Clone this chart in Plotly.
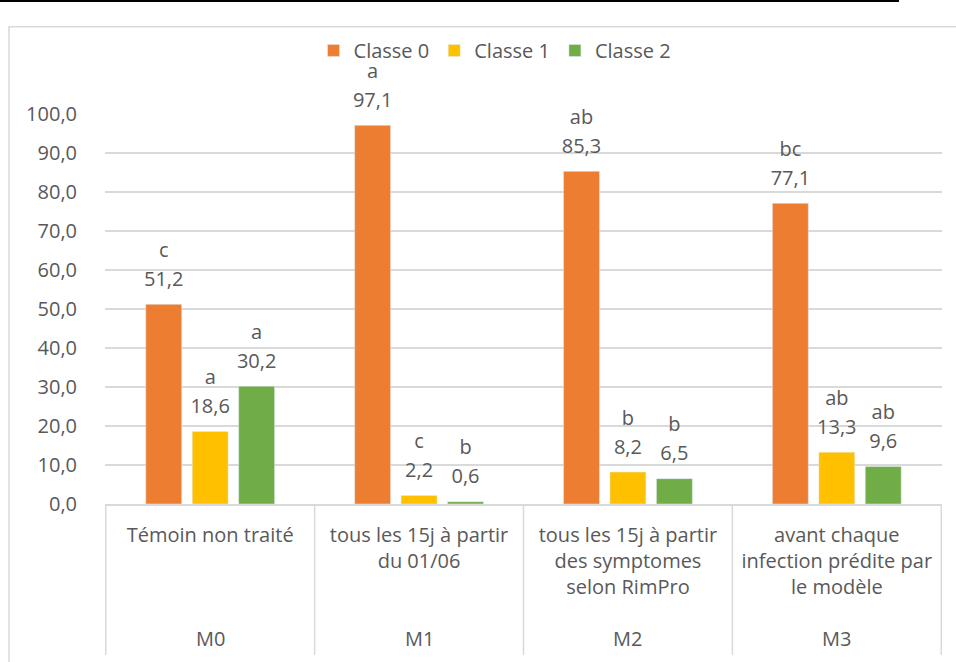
import plotly.graph_objects as go

groups = ["M0", "M1", "M2", "M3"]
descriptions = [
    "Témoin non traité",
    "tous les 15j à partir<br>du 01/06",
    "tous les 15j à partir<br>des symptomes<br>selon RimPro",
    "avant chaque<br>infection prédite par<br>le modèle",
]
series_names = ["Classe 0", "Classe 1", "Classe 2"]
classe0 = [51.2, 97.1, 85.3, 77.1]
classe1 = [18.6, 2.2, 8.2, 13.3]
classe2 = [30.2, 0.6, 6.5, 9.6]
letters0 = ["c", "a", "ab", "bc"]
letters1 = ["a", "c", "b", "ab"]
letters2 = ["a", "b", "b", "ab"]
y_ticks = [0, 10, 20, 30, 40, 50, 60, 70, 80, 90, 100]

values = [classe0, classe1, classe2]
letters = [letters0, letters1, letters2]
colors = ["#ED7D31", "#FFC000", "#70AD47"]
TXT = "#595959"
GRID = "#D9D9D9"
FONT = "Open Sans"
FS = 20
x = descriptions

fig = go.Figure()
for i in range(3):
    fig.add_trace(go.Bar(
        x=x, y=values[i], name=series_names[i], marker_color=colors[i],
        offsetgroup=str(i), hoverinfo="skip",
    ))
for i in range(3):
    fig.add_trace(go.Scatter(
        x=x, y=values[i], mode="markers+text", texttemplate="%{y:.1f}",
        textposition="top center", marker=dict(size=20, color="rgba(0,0,0,0)"),
        textfont=dict(size=FS, color=TXT, family=FONT),
        offsetgroup=str(i), showlegend=False, hoverinfo="skip", cliponaxis=False,
    ))
    fig.add_trace(go.Scatter(
        x=x, y=values[i], mode="markers+text", text=letters[i],
        textposition="top center", marker=dict(size=66, color="rgba(0,0,0,0)"),
        textfont=dict(size=FS, color=TXT, family=FONT),
        offsetgroup=str(i), showlegend=False, hoverinfo="skip", cliponaxis=False,
    ))

# outer group labels (M0..M3) under the category labels
annotations = [
    dict(x=d, y=-0.3436, xref="x", yref="paper", text=g, showarrow=False,
         font=dict(size=FS, color=TXT, family=FONT), yanchor="middle")
    for d, g in zip(descriptions, groups)
]
# group dividers at category boundaries
shapes = [
    dict(type="line", xref="x", yref="paper", x0=k - 0.5, x1=k - 0.5, y0=0, y1=-0.387,
         line=dict(color=GRID, width=1.5))
    for k in range(len(descriptions) + 1)
]
shapes += [
    dict(type="line", xref="paper", yref="paper", x0=-0.1266, x1=0.9486,
         y0=1.2897, y1=1.2897, line=dict(color="black", width=2)),
    dict(type="rect", xref="paper", yref="paper", x0=-0.1147, x1=1.03,
         y0=-0.6, y1=1.224, line=dict(color=GRID, width=1.5)),
]

fig.update_layout(
    width=956, height=662,
    margin=dict(l=105, r=14, t=114, b=158),
    paper_bgcolor="white", plot_bgcolor="white",
    barmode="group", bargap=0.333, bargroupgap=0.226,
    scattermode="group", scattergap=0.333,
    separators=", ",
    font=dict(family=FONT, size=FS, color=TXT),
    legend=dict(orientation="h", x=0.466, xanchor="center", y=1.163, yanchor="middle",
                bgcolor="rgba(0,0,0,0)",
                font=dict(size=FS, color=TXT, family=FONT), itemclick=False),
    showlegend=True,
    xaxis=dict(type="category", showline=True, linecolor=GRID, linewidth=1.5,
               tickfont=dict(size=FS, color=TXT, family=FONT), ticks="",
               ticklabelstandoff=12, tickangle=0),
    yaxis=dict(range=[0, 100], tickvals=y_ticks, tickformat=".1f", showgrid=True,
               gridcolor=GRID, gridwidth=1.5, zeroline=False, showline=False,
               tickfont=dict(size=FS, color=TXT, family=FONT), ticklabelstandoff=27),
    annotations=annotations,
    shapes=shapes,
)

fig.write_html("out.html")
